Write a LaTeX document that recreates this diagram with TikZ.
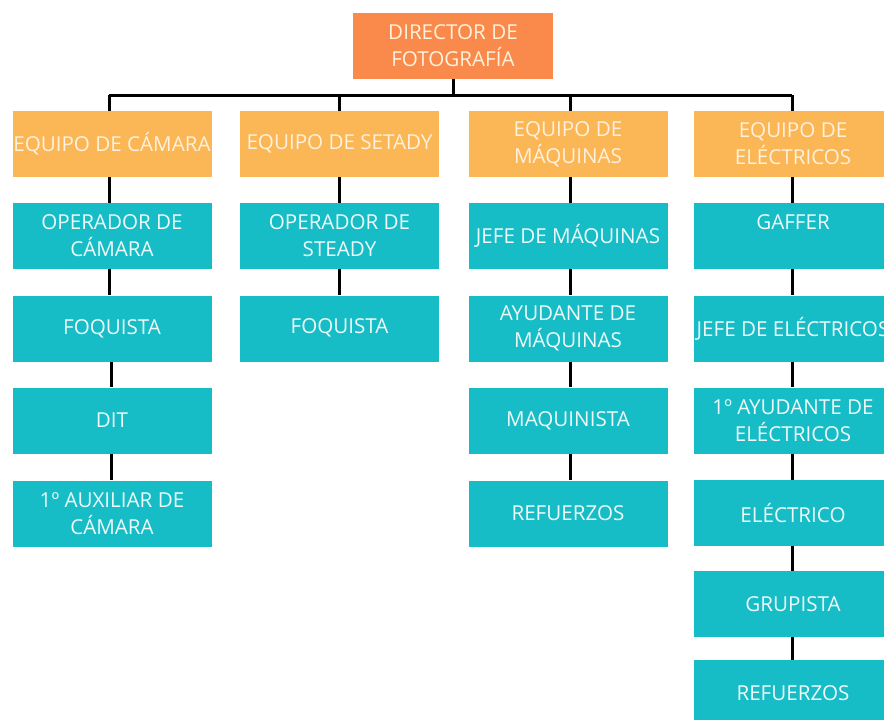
\documentclass[tikz,border=0pt]{standalone}
\usepackage{fontspec}
\setmainfont{Open Sans}
\definecolor{dirc}{HTML}{FA8A4B}
\definecolor{eqc}{HTML}{FBB655}
\definecolor{tealc}{HTML}{16BDC6}
\definecolor{txo}{HTML}{FFF1DC}
\definecolor{txt}{HTML}{EEF9F9}
\tikzset{
  box/.style={rectangle, inner sep=0pt, minimum width=199pt, minimum height=66pt, align=center,
    font=\fontsize{20.6}{27}\selectfont},
  dirbox/.style={box, fill=dirc, text=txo, minimum width=200pt},
  eqbox/.style={box, fill=eqc, text=txo},
  rolebox/.style={box, fill=tealc, text=txt},
  link/.style={draw=black, line width=3pt}
}
\begin{document}
\begin{tikzpicture}[x=1pt,y=-1pt]
\useasboundingbox (0,0) rectangle (884,720);
\clip (0,0) rectangle (884,720);
\fill[white] (0,0) rectangle (884,720);
% top
\node[dirbox] (dir) at (453,46) {DIRECTOR DE\\FOTOGRAFÍA};
\coordinate (bus) at (453,95);
% teams
\node[eqbox] (e1) at (112,144) {EQUIPO DE CÁMARA};
\node[eqbox] (e2) at (339.5,144) {EQUIPO DE SETADY};
\node[eqbox] (e3) at (568,144) {EQUIPO DE\\MÁQUINAS};
\node[eqbox] (e4) at (793,144) {EQUIPO DE\\ELÉCTRICOS};
% column 1
\node[rolebox] (a1) at (112,236) {OPERADOR DE\\CÁMARA};
\node[rolebox] (a2) at (112,328.5) {FOQUISTA};
\node[rolebox] (a3) at (112,420.5) {DIT};
\node[rolebox] (a4) at (112,513.5) {1º AUXILIAR DE\\CÁMARA};
% column 2
\node[rolebox] (b1) at (339.5,236) {OPERADOR DE\\STEADY};
\node[rolebox] (b2) at (339.5,328.5) {\raisebox{4pt}{FOQUISTA}};
% column 3
\node[rolebox] (c1) at (568,236) {JEFE DE MÁQUINAS};
\node[rolebox] (c2) at (568,328.5) {AYUDANTE DE\\MÁQUINAS};
\node[rolebox] (c3) at (568,420.5) {MAQUINISTA};
\node[rolebox] (c4) at (568,513.5) {REFUERZOS};
% column 4
\node[rolebox] (d1) at (793,236) {GAFFER\\\phantom{X}};
\node[rolebox] (d2) at (793,328.5) {JEFE DE ELÉCTRICOS};
\node[rolebox] (d3) at (793,420.5) {1º AYUDANTE DE\\ELÉCTRICOS};
\node[rolebox] (d4) at (793,513) {ELÉCTRICO};
\node[rolebox] (d5) at (793,604) {GRUPISTA};
\node[rolebox] (d6) at (793,693) {REFUERZOS};
% connectors
\draw[link] (dir.south) -- (bus);
\draw[link] ([xshift=-3pt]e1.north |- bus) -- ([xshift=-1pt]e4.north |- bus);
\foreach \e/\dx in {e1/-3,e2/0,e3/2,e4/-1}{
  \draw[link] ([xshift=\dx pt]\e.north) -- ([xshift=\dx pt]\e.north |- bus);
}
\foreach \u/\v/\dx in {e1/a1/-3,a1/a2/-3,a2/a3/-1,a3/a4/-1,e2/b1/0,b1/b2/0,e3/c1/2,c1/c2/2,c2/c3/2,c3/c4/2,e4/d1/-1,d1/d2/-1,d2/d3/-1,d3/d4/-1,d4/d5/-1,d5/d6/-1}{
  \draw[link] ([xshift=\dx pt]\u.south) -- ([xshift=\dx pt]\v.north);
}
\end{tikzpicture}
\end{document}
